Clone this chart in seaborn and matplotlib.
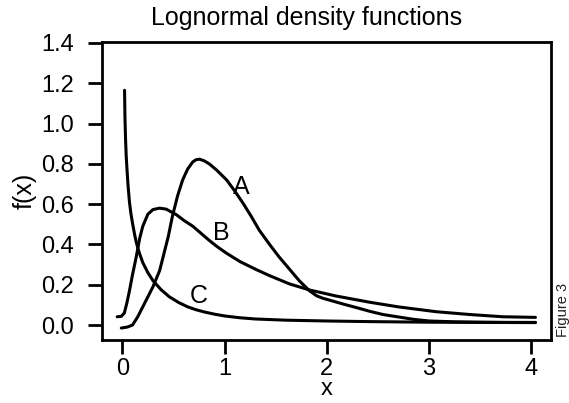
import matplotlib
matplotlib.use("Agg")
import matplotlib.pyplot as plt
import seaborn as sns
import pandas as pd

# Curve A
a_x = [-0.01, 0.05, 0.1, 0.15, 0.2, 0.25, 0.3, 0.365, 0.4, 0.45, 0.49, 0.54, 0.59, 0.64, 0.69, 0.72, 0.755, 0.8, 0.85, 0.92, 1.02, 1.1, 1.18, 1.26, 1.34, 1.44, 1.53, 1.63, 1.73, 1.83, 1.9, 1.96, 2.05, 2.16, 2.3, 2.42, 2.55, 2.7, 2.85, 3.0, 3.25, 3.5, 3.75, 4.04]
a_y = [-0.015, -0.01, 0.0, 0.04, 0.09, 0.14, 0.19, 0.27, 0.34, 0.44, 0.54, 0.64, 0.72, 0.775, 0.81, 0.82, 0.823, 0.815, 0.80, 0.77, 0.72, 0.665, 0.605, 0.54, 0.47, 0.40, 0.34, 0.28, 0.22, 0.17, 0.145, 0.133, 0.12, 0.104, 0.085, 0.068, 0.052, 0.04, 0.028, 0.02, 0.016, 0.014, 0.013, 0.013]

# Curve B
b_x = [-0.05, -0.01, 0.02, 0.045, 0.07, 0.1, 0.137, 0.17, 0.2, 0.25, 0.3, 0.365, 0.43, 0.53, 0.6, 0.69, 0.77, 0.85, 0.93, 1.02, 1.15, 1.31, 1.44, 1.635, 1.83, 2.09, 2.42, 2.7, 3.07, 3.4, 3.72, 4.04]
b_y = [0.041, 0.043, 0.06, 0.11, 0.17, 0.25, 0.34, 0.43, 0.49, 0.55, 0.573, 0.58, 0.575, 0.547, 0.52, 0.49, 0.455, 0.42, 0.388, 0.356, 0.315, 0.275, 0.245, 0.204, 0.174, 0.144, 0.113, 0.09, 0.066, 0.052, 0.041, 0.038]

# Curve C
c_x = [0.022, 0.026, 0.032, 0.038, 0.045, 0.055, 0.07, 0.085, 0.1, 0.12, 0.137, 0.165, 0.2, 0.25, 0.3, 0.38, 0.46, 0.55, 0.64, 0.72, 0.8, 0.9, 1.0, 1.15, 1.3, 1.6, 2.0, 2.4, 3.0, 3.5, 4.04]
c_y = [1.165, 1.03, 0.92, 0.84, 0.78, 0.70, 0.61, 0.55, 0.505, 0.45, 0.41, 0.36, 0.31, 0.26, 0.22, 0.175, 0.14, 0.112, 0.09, 0.076, 0.065, 0.054, 0.045, 0.036, 0.03, 0.024, 0.02, 0.017, 0.014, 0.013, 0.012]

labels = ["A", "B", "C"]
label_x = [1.16, 0.97, 0.75]
label_y = [0.686, 0.457, 0.144]

x_ticks = [0, 1, 2, 3, 4]
y_ticks = [0.0, 0.2, 0.4, 0.6, 0.8, 1.0, 1.2, 1.4]

sns.set_style("ticks")
plt.rcParams['font.family'] = ['Liberation Sans', 'DejaVu Sans']
plt.rcParams['text.color'] = 'black'
plt.rcParams['axes.labelcolor'] = 'black'
plt.rcParams['xtick.color'] = 'black'
plt.rcParams['ytick.color'] = 'black'

df = pd.concat([
    pd.DataFrame({"x": a_x, "y": a_y, "curve": "A"}),
    pd.DataFrame({"x": b_x, "y": b_y, "curve": "B"}),
    pd.DataFrame({"x": c_x, "y": c_y, "curve": "C"}),
])

fig = plt.figure(figsize=(5.69, 4.03), dpi=100)
ax = fig.add_axes([0.179, 0.156, 0.789, 0.740])

sns.lineplot(data=df, x="x", y="y", units="curve", estimator=None,
             color="black", linewidth=2.2, ax=ax, legend=False)

for lab, lx, ly in zip(labels, label_x, label_y):
    ax.text(lx, ly, lab, fontsize=18, ha="center", va="center", color="black")

ax.set_xlim(-0.2, 4.19)
ax.set_ylim(-0.075, 1.405)
ax.set_xticks(x_ticks)
ax.set_xticklabels([str(t) for t in x_ticks])
ax.set_yticks(y_ticks)
ax.set_yticklabels([f"{t:.1f}" for t in y_ticks])

for s in ax.spines.values():
    s.set_visible(True)
    s.set_linewidth(2.0)
    s.set_color("black")

ax.tick_params(axis="both", direction="out", length=10, width=2.0, labelsize=17,
               colors="black", labelcolor="black")
ax.tick_params(axis="y", pad=10)
ax.tick_params(axis="x", pad=3)

ax.set_xlabel("x", fontsize=17, labelpad=-1.5)
ax.set_ylabel("f(x)", fontsize=18, labelpad=3)
ax.text(0.457, 1.0 + 17 / 298.0, "Lognormal density functions", transform=ax.transAxes,
        fontsize=18, ha="center", va="baseline", color="black")

fig.text(0.989, 0.23, "Figure 3", rotation=90, fontsize=10.5, ha="center", va="center", color="#222222")

fig.savefig("out.png", dpi=100)
